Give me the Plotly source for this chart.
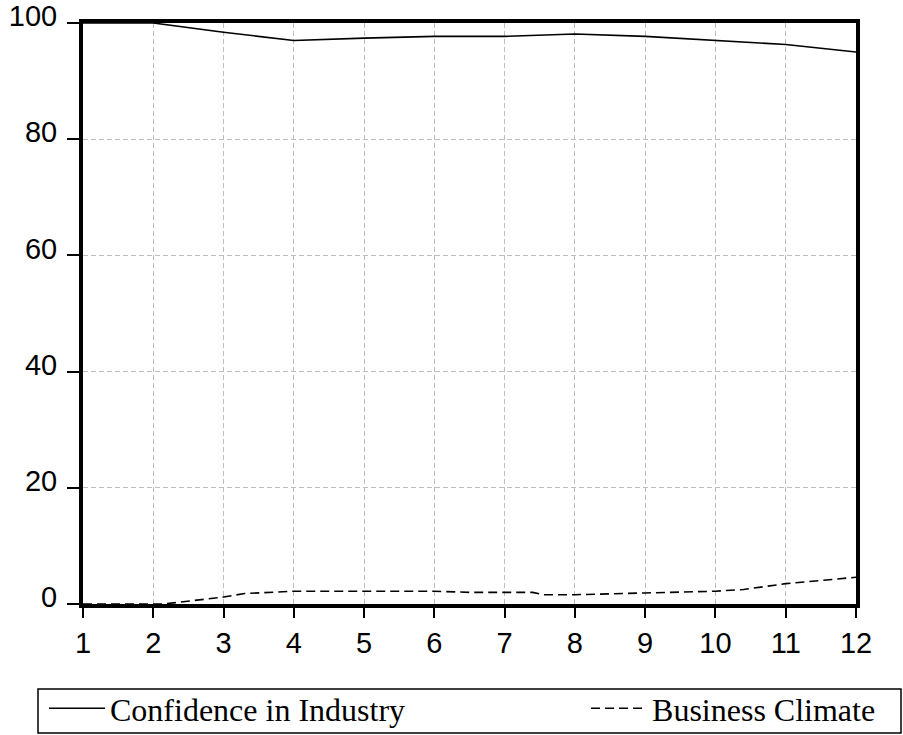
import plotly.graph_objects as go

# Data
conf_x = [1, 2, 3, 4, 5, 6, 7, 8, 9, 10, 11, 12]
conf_y = [100.0, 100.0, 98.4, 97.0, 97.4, 97.7, 97.7, 98.1, 97.7, 97.0, 96.3, 95.0]

biz_x = [1, 2, 2.15, 3, 3.3, 4, 5, 6, 6.5, 7, 7.4, 7.55, 8, 9, 10, 10.4, 11, 12]
biz_y = [0.0, 0.0, 0.0, 1.2, 1.8, 2.2, 2.2, 2.2, 2.0, 2.0, 2.0, 1.6, 1.6, 1.9, 2.2, 2.5, 3.5, 4.6]

x_ticks = [1, 2, 3, 4, 5, 6, 7, 8, 9, 10, 11, 12]
y_ticks = [0, 20, 40, 60, 80, 100]

names = ["Confidence in Industry", "Business Climate"]

NB = "\u00a0"

fig = go.Figure()
fig.add_trace(go.Scatter(
    x=conf_x, y=conf_y, mode="lines", name=names[0] + NB * 22,
    line=dict(color="black", width=1.6), cliponaxis=False,
))
fig.add_trace(go.Scatter(
    x=biz_x, y=biz_y, mode="lines", name=names[1],
    line=dict(color="black", width=1.6, dash="9px,5px"), cliponaxis=False,
))

axis_common = dict(
    showline=True, linecolor="black", linewidth=4, mirror=True,
    ticks="outside", tickcolor="black", tickwidth=2,
    showgrid=True, gridcolor="#bdbdbd", gridwidth=1, griddash="5px,3px",
    zeroline=False, ticklabeloverflow="allow",
    tickfont=dict(family="Liberation Sans, Arial", size=29, color="black"),
)

fig.update_xaxes(
    range=[1, 12], tickmode="array", tickvals=x_ticks,
    ticktext=[str(v) for v in x_ticks], ticklen=10,
    ticklabelstandoff=0, **axis_common,
)
fig.update_yaxes(
    range=[0, 100], tickmode="array", tickvals=y_ticks,
    ticktext=[str(v) for v in y_ticks], ticklen=12,
    ticklabelstandoff=4, ticklabelshift=-7, **axis_common,
)

fig.add_shape(
    type="rect", xref="paper", yref="paper",
    x0=(38 - 83) / 773, x1=(901 - 83) / 773,
    y0=(604 - 733) / 581, y1=(604 - 689) / 581,
    line=dict(color="black", width=1.5), fillcolor="rgba(0,0,0,0)",
)

fig.update_layout(
    width=903, height=735,
    margin=dict(l=83, r=47, t=23, b=131, autoexpand=False),
    plot_bgcolor="white", paper_bgcolor="white",
    showlegend=True,
    legend=dict(
        orientation="h", x=(44 - 83) / 773, xanchor="left",
        y=(604 - 681) / 581, yanchor="top",
        font=dict(family="Liberation Serif, Times New Roman", size=32, color="black"),
        itemwidth=56, borderwidth=0, bgcolor="rgba(0,0,0,0)",
    ),
)

fig.write_html("out.html")
